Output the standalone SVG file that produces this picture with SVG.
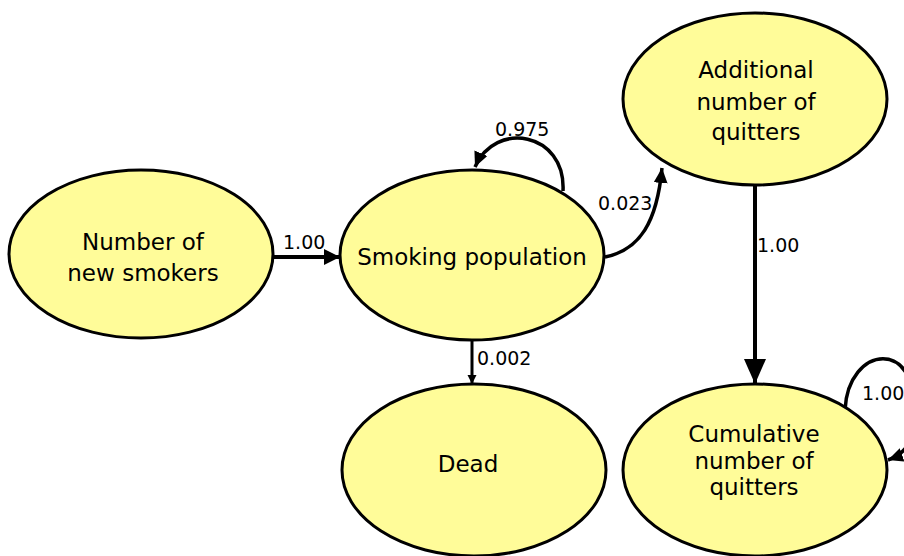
<svg xmlns="http://www.w3.org/2000/svg" width="904" height="556" viewBox="0 0 904 556">
<style>
.node{fill:#FFFC99;stroke:#000;stroke-width:3}
.nt{font-family:"DejaVu Sans",Verdana,sans-serif;font-size:23px;fill:#000;text-anchor:middle}
.lb{font-family:"DejaVu Sans",Verdana,sans-serif;font-size:19px;fill:#000}
.edge{fill:none;stroke:#000}
</style>
<defs>
<marker id="aBig" markerUnits="userSpaceOnUse" markerWidth="18" markerHeight="18" refX="16" refY="8" orient="auto"><path d="M0,0 L16,8 L0,16 z" fill="#000"/></marker>
<marker id="aVert" markerUnits="userSpaceOnUse" markerWidth="26" markerHeight="24" refX="25" refY="11" orient="auto"><path d="M0,0 L25,11 L0,22 z" fill="#000"/></marker>
<marker id="aMid" markerUnits="userSpaceOnUse" markerWidth="16" markerHeight="16" refX="15" refY="7" orient="auto"><path d="M0,0 L15,7 L0,14 z" fill="#000"/></marker>
<marker id="aSmall" markerUnits="userSpaceOnUse" markerWidth="10" markerHeight="10" refX="9" refY="4.5" orient="auto"><path d="M0,0 L9,4.5 L0,9 z" fill="#000"/></marker>
</defs>
<rect width="904" height="556" fill="#fff"/>

<g id="connectors">
<path class="edge" d="M273 257 L340 257" stroke-width="4" marker-end="url(#aBig)"/>
<text class="lb" x="283" y="249">1.00</text>
<path class="edge" d="M563 191 C566 132 495 120 475 167" stroke-width="3.5" marker-end="url(#aMid)"/>
<text class="lb" x="495" y="136">0.975</text>
<path class="edge" d="M605 257 C640 250 657 222 662 168" stroke-width="3.5" marker-end="url(#aMid)"/>
<text class="lb" x="598" y="210">0.023</text>
<path class="edge" d="M472 340 L472 384" stroke-width="3" marker-end="url(#aSmall)"/>
<text class="lb" x="477" y="365">0.002</text>
<path class="edge" d="M755 185 L755 384" stroke-width="4" marker-end="url(#aVert)"/>
<text class="lb" x="757" y="252">1.00</text>
<path class="edge" d="M845 410 C848 345 920 335 915 420 C913 445 902 455 888 460" stroke-width="3.5" marker-end="url(#aMid)"/>
<text class="lb" x="862" y="400">1.00</text>
</g>

<g id="node-new-smokers">
<ellipse class="node" cx="141" cy="254" rx="132" ry="84"/>
<text class="nt" x="143" y="250">Number of</text>
<text class="nt" x="143" y="281">new smokers</text>
</g>
<g id="node-smoking-population">
<ellipse class="node" cx="472" cy="255" rx="132" ry="85"/>
<text class="nt" x="472" y="265">Smoking population</text>
</g>
<g id="node-additional-quitters">
<ellipse class="node" cx="755" cy="99" rx="132" ry="86"/>
<text class="nt" x="756" y="78">Additional</text>
<text class="nt" x="756" y="110">number of</text>
<text class="nt" x="756" y="140">quitters</text>
</g>
<g id="node-dead">
<ellipse class="node" cx="474" cy="470" rx="132" ry="86"/>
<text class="nt" x="468" y="472">Dead</text>
</g>
<g id="node-cumulative-quitters">
<ellipse class="node" cx="755" cy="470" rx="132" ry="86"/>
<text class="nt" x="754" y="442">Cumulative</text>
<text class="nt" x="754" y="469">number of</text>
<text class="nt" x="754" y="495">quitters</text>
</g>
</svg>
